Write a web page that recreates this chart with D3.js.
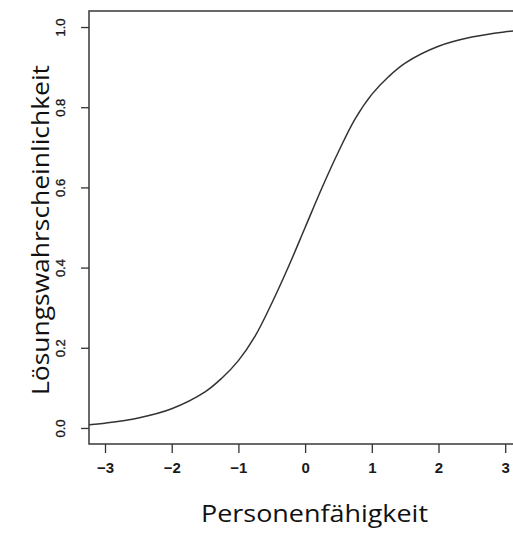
<!DOCTYPE html>
<html>
<head>
<meta charset="utf-8">
<script src="https://cdn.jsdelivr.net/npm/d3@7"></script>
<style>
  body { margin: 0; background: #fff; }
  svg { display: block; }
</style>
</head>
<body>
<div id="chart"></div>
<script>
// size of the page
var chart_width = 513;
var chart_height = 533;

// values
var abilities = [-3.24, -3, -2.5, -2, -1.5, -1.25, -1, -0.75, -0.5, -0.25, 0, 0.25, 0.5, 0.75, 1, 1.25, 1.5, 2, 2.5, 3, 3.24];
var probs = [0.008, 0.012, 0.025, 0.048, 0.09, 0.124, 0.168, 0.229, 0.311, 0.402, 0.5, 0.598, 0.689, 0.771, 0.832, 0.876, 0.91, 0.952, 0.975, 0.988, 0.992];
var x_ticks = [-3, -2, -1, 0, 1, 2, 3];
var y_ticks = [0, 0.2, 0.4, 0.6, 0.8, 1.0];

var x_title = "Personenfähigkeit";
var y_title = "Lösungswahrscheinlichkeit";

// plot region (R style: 4% padding on every side)
var plot_left = 89, plot_top = 11, plot_bottom = 444;

var x = d3.scaleLinear()
    .domain([-3.24, 3.24])
    .range([plot_left, plot_left + 6.48 * 66.7]);

var y = d3.scaleLinear()
    .domain([-0.04, 1.04])
    .range([plot_bottom, plot_top]);

var svg = d3.select("#chart")
    .append("svg")
    .attr("width", chart_width)
    .attr("height", chart_height);

svg.append("defs").append("clipPath")
    .attr("id", "plot")
    .append("rect")
    .attr("x", plot_left)
    .attr("y", plot_top)
    .attr("width", x.range()[1] - plot_left)
    .attr("height", plot_bottom - plot_top);

// curve
var line = d3.line()
    .x(function(d, i) { return x(abilities[i]); })
    .y(function(d) { return y(d); })
    .curve(d3.curveCatmullRom.alpha(0.5));

svg.append("path")
    .datum(probs)
    .attr("clip-path", "url(#plot)")
    .attr("d", line)
    .attr("fill", "none")
    .attr("stroke", "#333")
    .attr("stroke-width", 1.5);

// box
svg.append("rect")
    .attr("x", plot_left)
    .attr("y", plot_top)
    .attr("width", x.range()[1] - plot_left)
    .attr("height", plot_bottom - plot_top)
    .attr("fill", "none")
    .attr("stroke", "#444")
    .attr("stroke-width", 1.6);

// x axis
var x_axis = svg.append("g")
    .attr("transform", "translate(0," + plot_bottom + ")")
    .call(d3.axisBottom(x).tickValues(x_ticks).tickSize(9).tickFormat(d3.format("d")));

x_axis.select(".domain").remove();
x_axis.selectAll("line").attr("stroke", "#333").attr("stroke-width", 1.3);
x_axis.selectAll("text")
    .attr("y", 29)
    .attr("dy", 0)
    .attr("fill", "#1a1a1a")
    .style("font-family", "'Liberation Sans', Arial, sans-serif")
    .style("font-weight", "bold")
    .style("font-size", "15px");

// y axis
var y_axis = svg.append("g")
    .attr("transform", "translate(" + plot_left + ",0)")
    .call(d3.axisLeft(y).tickValues(y_ticks).tickSize(8).tickFormat(d3.format(".1f")));

y_axis.select(".domain").remove();
y_axis.selectAll("line").attr("stroke", "#333").attr("stroke-width", 1.3);
y_axis.selectAll("text")
    .attr("transform", "rotate(-90)")
    .attr("x", 0)
    .attr("y", -24)
    .attr("dy", 0)
    .attr("text-anchor", "middle")
    .attr("fill", "#1a1a1a")
    .attr("stroke", "#1a1a1a")
    .attr("stroke-width", 0.35)
    .style("font-family", "'Liberation Sans', Arial, sans-serif")
    .style("font-size", "13px");

// axis titles
svg.append("text")
    .attr("x", 314.5)
    .attr("y", 522)
    .attr("text-anchor", "middle")
    .attr("textLength", 227)
    .attr("lengthAdjust", "spacingAndGlyphs")
    .style("font-family", "'Open Sans', sans-serif")
    .style("font-size", "23.5px")
    .attr("fill", "#111")
    .text(x_title);

svg.append("text")
    .attr("transform", "translate(49,230) rotate(-90)")
    .attr("text-anchor", "middle")
    .attr("textLength", 330)
    .attr("lengthAdjust", "spacingAndGlyphs")
    .style("font-family", "'Open Sans', sans-serif")
    .style("font-size", "23.5px")
    .attr("fill", "#111")
    .text(y_title);
</script>
</body>
</html>
